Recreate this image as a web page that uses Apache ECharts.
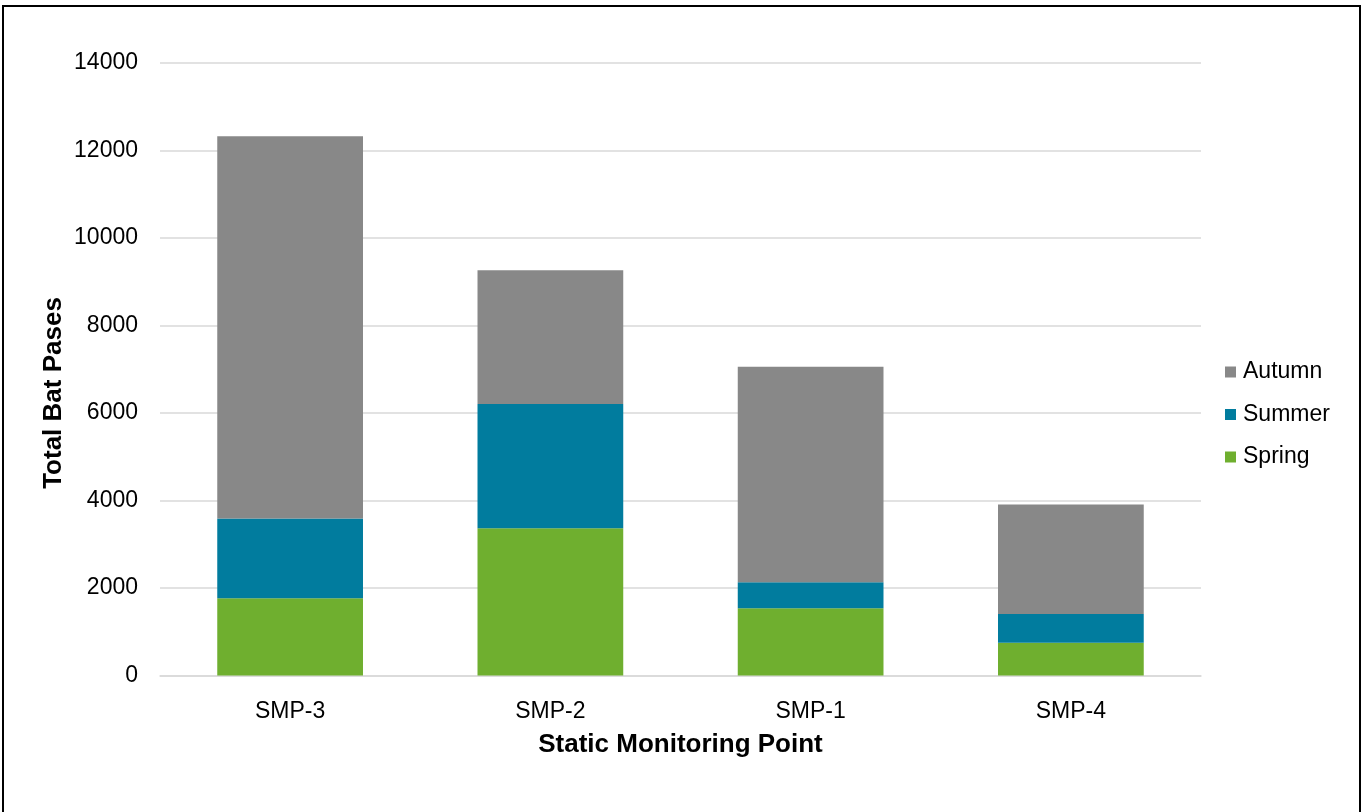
<!DOCTYPE html>
<html>
<head>
<meta charset="utf-8">
<script src="https://cdn.jsdelivr.net/npm/echarts@6/dist/echarts.min.js"></script>
<style>
  html, body { margin: 0; padding: 0; background: #fff; overflow: hidden; }
  #chart { position: absolute; left: 0; top: 0; width: 1369px; height: 812px; }
  #frame { position: absolute; left: 2px; top: 5px; width: 1359px; height: 900px; border: 2px solid #000; box-sizing: border-box; pointer-events: none; }
</style>
</head>
<body>
<div id="chart"></div>
<div id="frame"></div>
<script>
const categories = ['SMP-3', 'SMP-2', 'SMP-1', 'SMP-4'];
const spring = [1764, 3363, 1535, 749];
const summer = [1827, 2840, 594, 656];
const autumn = [8735, 3061, 4926, 2506];
const seriesNames = ['Spring', 'Summer', 'Autumn'];
const legendOrder = ['Autumn', 'Summer', 'Spring'];
const yTitle = 'Total Bat Pases';
const xTitle = 'Static Monitoring Point';

const FONT = '"Liberation Sans", Arial, sans-serif';
const colors = { Spring: '#6FAF2F', Summer: '#017C9E', Autumn: '#888888' };
const values = { Spring: spring, Summer: summer, Autumn: autumn };

const chart = echarts.init(document.getElementById('chart'), null, { renderer: 'canvas' });
chart.setOption({
  animation: false,
  backgroundColor: '#ffffff',
  textStyle: { fontFamily: FONT },
  grid: { left: 160, right: 168, top: 63, bottom: 136.5, containLabel: false },
  legend: {
    orient: 'vertical',
    left: 1225,
    top: 360,
    padding: 0,
    data: legendOrder,
    itemWidth: 11,
    itemHeight: 11,
    itemGap: 18.5,
    icon: 'rect',
    textStyle: { fontSize: 23, color: '#000', fontFamily: FONT, lineHeight: 24, padding: [0, 0, 0, 2] }
  },
  xAxis: {
    type: 'category',
    data: categories,
    name: xTitle,
    nameLocation: 'middle',
    nameGap: 56,
    nameTextStyle: { fontSize: 26, fontWeight: 'bold', color: '#000', fontFamily: FONT },
    axisLine: { lineStyle: { color: '#d9d9d9', width: 1.5 } },
    axisTick: { show: false },
    axisLabel: { fontSize: 23, color: '#000', margin: 25, fontFamily: FONT }
  },
  yAxis: {
    type: 'value',
    min: 0,
    max: 14000,
    interval: 2000,
    axisLine: { show: false },
    axisTick: { show: false },
    splitLine: { lineStyle: { color: '#d9d9d9', width: 1.5 } },
    axisLabel: { fontSize: 23, color: '#000', margin: 22, fontFamily: FONT, formatter: v => String(v) }
  },
  graphic: [{
    type: 'text',
    x: 54,
    y: 393,
    rotation: Math.PI / 2,
    style: {
      text: yTitle,
      fontSize: 26,
      fontWeight: 'bold',
      fontFamily: FONT,
      fill: '#000',
      align: 'center',
      verticalAlign: 'middle'
    }
  }],
  series: seriesNames.map(n => ({
    name: n,
    type: 'bar',
    stack: 'total',
    barWidth: '56%',
    itemStyle: { color: colors[n] },
    data: values[n]
  }))
});
</script>
</body>
</html>
